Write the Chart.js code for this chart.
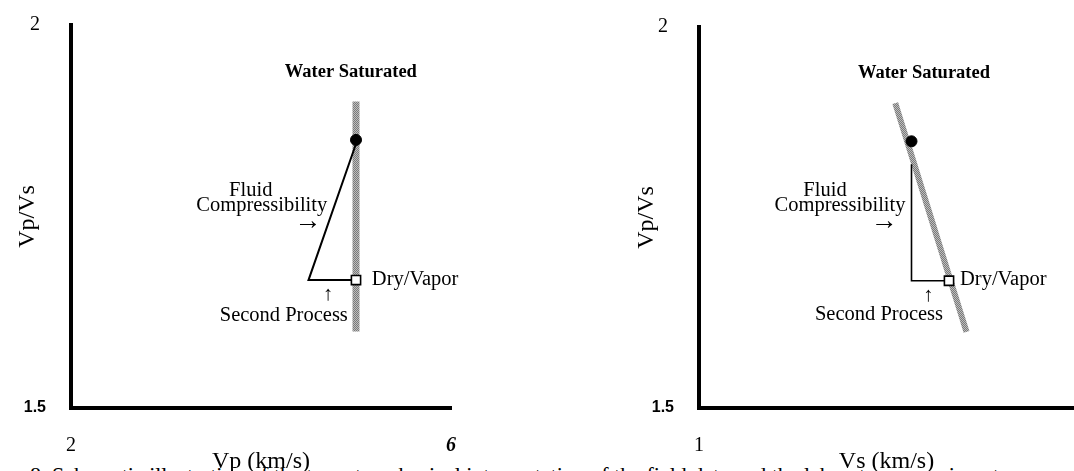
<!DOCTYPE html>
<html lang="en">
<head>
  <meta charset="UTF-8" />
  <title>Vp/Vs schematic</title>
  <style>
    html, body {
      margin: 0;
      padding: 0;
      background: #fff;
      overflow: hidden;
    }
    body {
      position: relative;
      width: 1074px;
      height: 471px;
      font-family: "Liberation Serif", "Times New Roman", serif;
    }
    .panel {
      position: absolute;
      top: 0;
      width: 537px;
      height: 471px;
    }
    #leftPanel { left: 0; }
    #rightPanel { left: 537px; }
    .caption {
      position: absolute;
      left: 30px;
      top: 464px;
      font-size: 22px;
      line-height: 22px;
      white-space: nowrap;
      color: #000;
    }
  </style>
  <script src="https://cdn.jsdelivr.net/npm/chart.js"></script>
</head>
<body>
  <div class="caption">8. Schematic illustration of the two-step physical interpretation of the field data and the laboratory experiments.</div>
  <div class="panel" id="leftPanel"><canvas id="vpChart" width="537" height="471"></canvas></div>
  <div class="panel" id="rightPanel"><canvas id="vsChart" width="537" height="471"></canvas></div>

  <script>
    // shared y axis
    const ratioTicks = [1.5, 2];

    // left panel: Vp/Vs against Vp
    const vpTicks = [2, 6];
    const vpBand = [[5, 1.6], [5, 1.9]];
    const vpPath = [[5, 1.845], [4.5, 1.667], [5, 1.667]];
    const vpWater = [[5, 1.85]];
    const vpDry = [[5, 1.667]];

    // right panel: Vp/Vs against Vs
    const vsTicks = [1];
    const vsBand = [[2.57, 1.9], [3.14, 1.6]];
    const vsPath = [[2.7, 1.82], [2.7, 1.667], [3.0, 1.667]];
    const vsWater = [[2.7, 1.85]];
    const vsDry = [[3.0, 1.667]];

    const toXY = arr => arr.map(p => ({ x: p[0], y: p[1] }));

    // stippled grey for the trend band
    function makeStipple() {
      const c = document.createElement('canvas');
      c.width = 2;
      c.height = 2;
      const g = c.getContext('2d');
      g.fillStyle = '#bdbdbd';
      g.fillRect(0, 0, 2, 2);
      g.fillStyle = '#7a7a7a';
      g.fillRect(0, 0, 1, 1);
      g.fillRect(1, 1, 1, 1);
      return g.createPattern(c, 'repeat');
    }
    const stipple = makeStipple();

    const serif = '"Liberation Serif", "Times New Roman", serif';
    const sans = '"Liberation Sans", Arial, sans-serif';

    const textLabels = {
      id: 'textLabels',
      afterDatasetsDraw(chart, args, opts) {
        const { ctx, scales: { x, y } } = chart;
        ctx.save();
        ctx.fillStyle = '#000';
        ctx.textBaseline = 'middle';
        opts.items.forEach(it => {
          ctx.font = it.font;
          ctx.textAlign = it.align || 'center';
          ctx.fillText(it.text, x.getPixelForValue(it.x), y.getPixelForValue(it.y));
        });
        ctx.restore();
      }
    };

    function buildChart(canvasId, cfg) {
      return new Chart(document.getElementById(canvasId), {
        type: 'scatter',
        data: {
          datasets: [
            {
              data: toXY(cfg.water),
              pointRadius: cfg.dotRadius,
              pointBackgroundColor: '#000',
              pointBorderColor: '#000',
              order: 1
            },
            {
              data: toXY(cfg.dry),
              pointStyle: 'rect',
              pointRadius: cfg.boxRadius,
              pointBackgroundColor: '#fff',
              pointBorderColor: '#000',
              pointBorderWidth: 1.6,
              order: 2
            },
            {
              data: toXY(cfg.path),
              showLine: true,
              borderColor: '#000',
              borderWidth: cfg.pathWidth,
              pointRadius: 0,
              order: 3
            },
            {
              data: toXY(cfg.band),
              showLine: true,
              borderColor: stipple,
              borderWidth: cfg.bandWidth,
              borderCapStyle: 'butt',
              pointRadius: 0,
              order: 4
            }
          ]
        },
        options: {
          responsive: false,
          animation: false,
          events: [],
          layout: { padding: cfg.padding, autoPadding: false },
          plugins: {
            legend: { display: false },
            tooltip: { enabled: false },
            textLabels: { items: cfg.labels }
          },
          scales: {
            x: {
              type: 'linear',
              min: cfg.xMin,
              max: cfg.xMax,
              grid: { display: false, drawTicks: false },
              border: { display: true, color: '#000', width: 4 },
              afterBuildTicks: axis => { axis.ticks = cfg.xTicks.map(v => ({ value: v })); },
              afterFit: scale => {
                scale.height = 63;
                scale.paddingLeft = 0;
                scale.paddingRight = 0;
              },
              ticks: {
                color: '#000',
                padding: 26,
                maxRotation: 0,
                autoSkip: false,
                callback: v => String(v),
                font: ctx => ctx.tick && ctx.tick.value === 6
                  ? { family: serif, size: 20, weight: 'bold', style: 'italic' }
                  : { family: serif, size: 20 }
              },
              title: {
                display: true,
                text: cfg.xTitle,
                color: '#000',
                padding: { top: 0, bottom: 0 },
                font: { family: serif, size: 24, lineHeight: 0.76 }
              }
            },
            y: {
              type: 'linear',
              min: 1.5,
              max: 2,
              grid: { display: false, drawTicks: false },
              border: { display: true, color: '#000', width: 4 },
              afterBuildTicks: axis => { axis.ticks = ratioTicks.map(v => ({ value: v })); },
              afterFit: scale => {
                scale.width = cfg.yWidth;
                scale.paddingTop = 0;
                scale.paddingBottom = 0;
              },
              ticks: {
                color: '#000',
                padding: 25,
                crossAlign: 'center',
                autoSkip: false,
                callback: v => String(v),
                font: ctx => ctx.tick && ctx.tick.value === 1.5
                  ? { family: sans, size: 16, weight: 'bold' }
                  : { family: serif, size: 20 }
              },
              title: {
                display: true,
                text: 'Vp/Vs',
                color: '#000',
                padding: { top: cfg.yTitlePad, bottom: 0 },
                font: { family: serif, size: 24 }
              }
            }
          }
        },
        plugins: [textLabels]
      });
    }

    const regular = '20.5px ' + serif;
    const arrow = '27px ' + serif;
    const bold = 'bold 18.5px ' + serif;

    buildChart('vpChart', {
      water: vpWater, dry: vpDry, path: vpPath, band: vpBand,
      xTicks: vpTicks, xMin: 2, xMax: 6, xTitle: 'Vp (km/s)',
      yWidth: 71, yTitlePad: 13,
      padding: { top: 25, right: 86, bottom: 0, left: 0 },
      dotRadius: 5.5, boxRadius: 6.5, pathWidth: 2, bandWidth: 7,
      labels: [
        { text: 'Water Saturated', x: 4.946, y: 1.9386, font: bold },
        { text: 'Fluid', x: 3.892, y: 1.7833, font: regular },
        { text: 'Compressibility', x: 4.008, y: 1.7637, font: regular },
        { text: '\u2192', x: 4.493, y: 1.743, font: arrow },
        { text: 'Dry/Vapor', x: 5.167, y: 1.667, font: regular, align: 'left' },
        { text: '\u2191', x: 4.703, y: 1.6475, font: regular },
        { text: 'Second Process', x: 4.24, y: 1.62, font: regular }
      ]
    });

    buildChart('vsChart', {
      water: vsWater, dry: vsDry, path: vsPath, band: vsBand,
      xTicks: vsTicks, xMin: 1, xMax: 4, xTitle: 'Vs (km/s)',
      yWidth: 162, yTitlePad: 95,
      padding: { top: 27, right: 0, bottom: 0, left: 0 },
      dotRadius: 5.5, boxRadius: 6.5, pathWidth: 1.6, bandWidth: 6,
      labels: [
        { text: 'Water Saturated', x: 2.8, y: 1.9396, font: bold },
        { text: 'Fluid', x: 2.008, y: 1.785, font: regular },
        { text: 'Compressibility', x: 2.128, y: 1.765, font: regular },
        { text: '\u2192', x: 2.48, y: 1.744, font: arrow },
        { text: 'Dry/Vapor', x: 3.088, y: 1.668, font: regular, align: 'left' },
        { text: '\u2191', x: 2.832, y: 1.648, font: regular },
        { text: 'Second Process', x: 2.44, y: 1.622, font: regular }
      ]
    });
  </script>
</body>
</html>
